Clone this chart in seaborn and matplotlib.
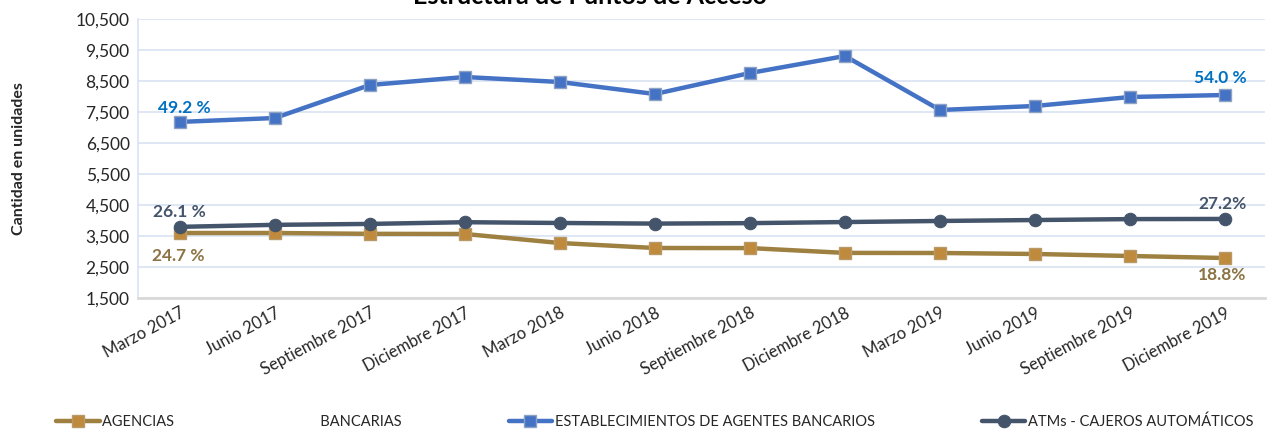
import matplotlib
matplotlib.use("Agg")
import matplotlib.pyplot as plt
import seaborn as sns
import pandas as pd
from matplotlib.ticker import FuncFormatter

periods = ["Marzo 2017", "Junio 2017", "Septiembre 2017", "Diciembre 2017",
           "Marzo 2018", "Junio 2018", "Septiembre 2018", "Diciembre 2018",
           "Marzo 2019", "Junio 2019", "Septiembre 2019", "Diciembre 2019"]
agencias = [3597, 3597, 3570, 3565, 3274, 3113, 3110, 2955, 2952, 2920, 2855, 2790]
establecimientos = [7180, 7306, 8371, 8629, 8468, 8080, 8758, 9306, 7565, 7694, 7984, 8048]
atms = [3795, 3860, 3890, 3945, 3920, 3900, 3915, 3950, 3985, 4015, 4045, 4050]
y_ticks = [1500, 2500, 3500, 4500, 5500, 6500, 7500, 8500, 9500, 10500]

series_names = ["AGENCIAS                                       BANCARIAS",
                "ESTABLECIMIENTOS DE AGENTES BANCARIOS",
                "ATMs - CAJEROS AUTOMÁTICOS"]

sns.set_theme(style="white")
plt.rcParams['font.family'] = ['Lato', 'DejaVu Sans']

fig = plt.figure(figsize=(12.69, 4.34), dpi=100)
ax = fig.add_axes([138/1269, 1-298/434, (1265-138)/1269, (298-19)/434])

x = list(range(len(periods)))
df = pd.DataFrame({"x": x, "ag": agencias, "est": establecimientos, "atm": atms})

sns.lineplot(data=df, x="x", y="ag", ax=ax, color="#9E8040", lw=3.2,
             marker="s", markersize=9, markerfacecolor="#C08A3C",
             markeredgecolor="#B89A6A", markeredgewidth=1.0, label=series_names[0])
sns.lineplot(data=df, x="x", y="est", ax=ax, color="#4472C4", lw=3.2,
             marker="s", markersize=9, markerfacecolor="#4472C4",
             markeredgecolor="#8EA2C4", markeredgewidth=1.0, label=series_names[1])
sns.lineplot(data=df, x="x", y="atm", ax=ax, color="#44546A", lw=3.2,
             marker="o", markersize=9, markerfacecolor="#44546A",
             markeredgecolor="#44546A", label=series_names[2])

ax.set_xlim(-0.44, 11.42)
ax.set_ylim(1500, 10500)
ax.set_yticks(y_ticks)
ax.yaxis.set_major_formatter(FuncFormatter(lambda v, p: f"{int(v):,}"))
ax.set_xticks(x)
ax.set_xticklabels(periods, rotation=28, ha="right", rotation_mode="anchor", fontsize=12)
ax.tick_params(axis="y", labelsize=12.5, length=0, pad=6)
ax.tick_params(axis="x", length=0, pad=5)
ax.grid(axis="y", color="#D9E1F2", lw=1.2)
ax.grid(axis="x", visible=False)
for s in ["top", "right"]:
    ax.spines[s].set_visible(False)
ax.spines["left"].set_color("#D9E1F2")
ax.spines["left"].set_linewidth(1.2)
ax.spines["bottom"].set_color("#D9D9D9")
ax.spines["bottom"].set_linewidth(2)
ax.set_xlabel("")
ax.set_ylabel("Cantidad en unidades", fontsize=11.5, fontweight="bold", labelpad=36)

def lab(txt, i, vals, dx, dy, color):
    ax.annotate(txt, (i, vals[i]), xytext=(dx*0.72, -dy*0.72), textcoords="offset points",
                ha="center", va="center", fontsize=12.5, fontweight="bold", color=color)

lab("49.2 %", 0, establecimientos, 5, -14, "#0070C0")
lab("54.0 %", 11, establecimientos, -5, -17, "#0070C0")
lab("26.1 %", 0, atms, 0, -15, "#44546A")
lab("27.2%", 11, atms, -3, -15, "#44546A")
lab("24.7 %", 0, agencias, -2, 23, "#8B7343")
lab("18.8%", 11, agencias, -3, 17, "#8B7343")

fig.text(0.465, 0.99, "Estructura de Puntos de Acceso", ha="center", va="baseline",
         fontsize=18, fontweight="bold", color="#000000")

ax.get_legend().remove()
handles, labels = ax.get_legend_handles_labels()
fig.legend(handles, labels, loc="center", bbox_to_anchor=(0.516, 1-422/434), ncol=3,
           frameon=False, fontsize=10.5, handlelength=3.0, handletextpad=0.2,
           columnspacing=7.3, borderaxespad=0)

fig.savefig("out.png", dpi=100)
